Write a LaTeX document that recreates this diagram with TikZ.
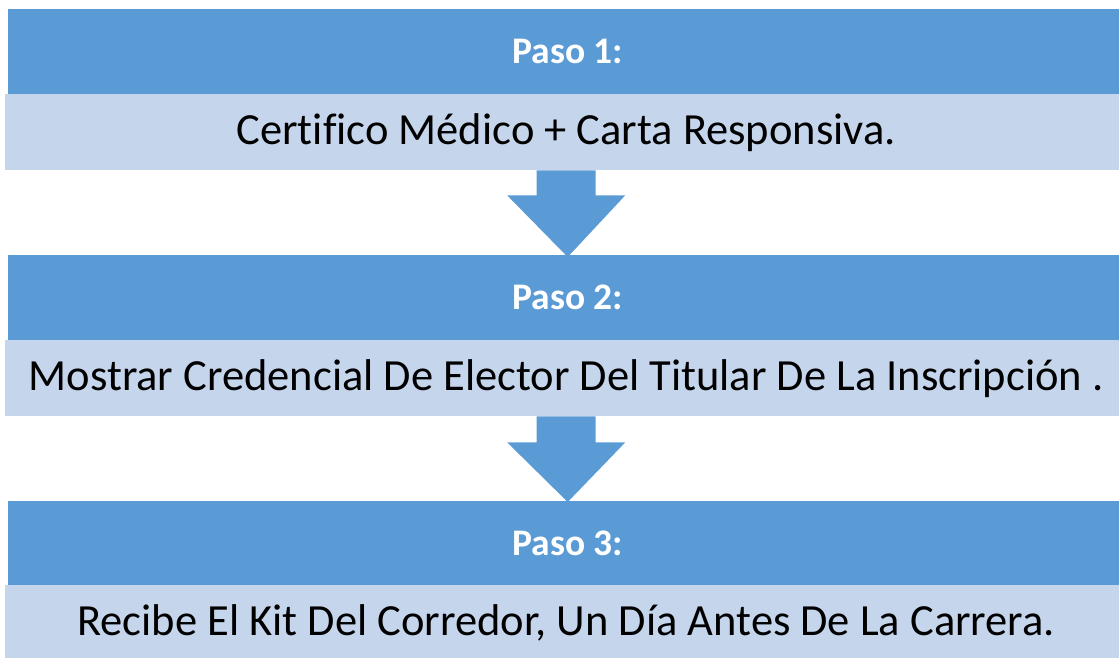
\documentclass[tikz,border=0pt]{standalone}
\usepackage{fontspec}
\setmainfont{Carlito}[Ligatures=NoCommon]
\usetikzlibrary{calc}
\definecolor{hdr}{HTML}{5B9BD5}
\definecolor{lite}{HTML}{C5D5EC}
\begin{document}
\begin{tikzpicture}[x=1pt,y=-1pt,
  hdrbox/.style={fill=hdr,draw=none,minimum width=1119pt,minimum height=85pt,inner sep=0pt,text=white,font=\fontsize{37.5}{42}\selectfont\bfseries},
  litebox/.style={fill=lite,draw=none,minimum width=1122pt,minimum height=76pt,inner sep=0pt,text=black,font=\fontsize{44.5}{50}\selectfont},
  arrowshape/.style={fill=hdr,draw=none}]
\useasboundingbox (0,0) rectangle (1119,657);
\clip (0,0) rectangle (1119,657);
\node[hdrbox,anchor=north west] (h1) at (8,9) {Paso 1:};
\node[litebox,anchor=north west] (l1) at (5,94) {Certifico Médico + Carta Responsiva.};
\node[hdrbox,anchor=north west] (h2) at (8,255) {Paso 2:};
\node[litebox,anchor=north west] (l2) at (5,340) {Mostrar Credencial De Elector Del Titular De La Inscripción .};
\node[hdrbox,anchor=north west] (h3) at (8,501) {Paso 3:};
\node[litebox,anchor=north west] (l3) at (5,585) {Recibe El Kit Del Corredor, Un Día Antes De La Carrera.};
\fill[arrowshape] ($(l1.south)+(-29.5,0)$) -- ($(l1.south)+(29.5,0)$) -- ($(l1.south)+(29.5,25)$) -- ($(l1.south)+(59,25)$) -- ($(h2.north)+(0,2)$) -- ($(l1.south)+(-59,25)$) -- ($(l1.south)+(-29.5,25)$) -- cycle;
\fill[arrowshape] ($(l2.south)+(-29.5,0)$) -- ($(l2.south)+(29.5,0)$) -- ($(l2.south)+(29.5,26)$) -- ($(l2.south)+(59,26)$) -- ($(h3.north)+(0,1)$) -- ($(l2.south)+(-59,26)$) -- ($(l2.south)+(-29.5,26)$) -- cycle;
\end{tikzpicture}
\end{document}
